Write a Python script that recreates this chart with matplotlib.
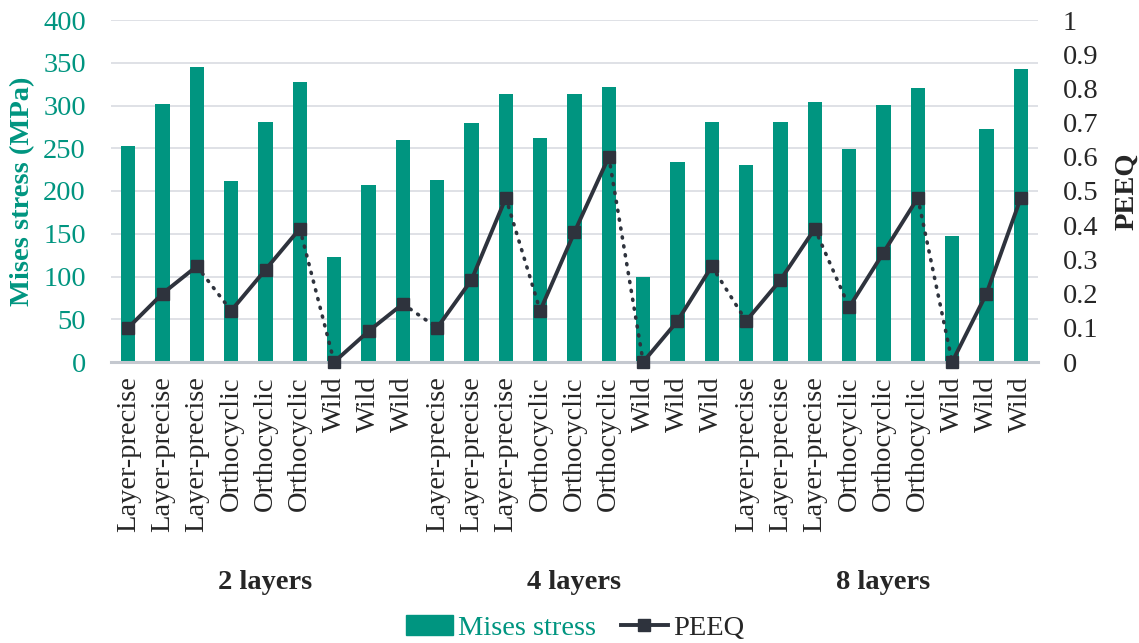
import matplotlib
matplotlib.use("Agg")
import matplotlib.pyplot as plt
from matplotlib.lines import Line2D
from matplotlib.patches import Patch
from matplotlib.ticker import FormatStrFormatter

# winding type per bar, repeated for 2 / 4 / 8 layers
categories = (["Layer-precise"] * 3 + ["Orthocyclic"] * 3 + ["Wild"] * 3) * 3
groups = ["2 layers", "4 layers", "8 layers"]

mises = [253, 302, 345, 212, 281, 328, 123, 207, 260,
         213, 280, 313, 262, 314, 322, 100, 234, 281,
         230, 281, 304, 249, 301, 321, 147, 273, 343]
peeq = [0.10, 0.20, 0.28, 0.15, 0.27, 0.39, 0.00, 0.09, 0.17,
        0.10, 0.24, 0.48, 0.15, 0.38, 0.60, 0.00, 0.12, 0.28,
        0.12, 0.24, 0.39, 0.16, 0.32, 0.48, 0.00, 0.20, 0.48]

TEAL = "#009580"
DARK = "#2e333d"
TXT = "#262626"
FS = 20.5
plt.rcParams["font.family"] = ["Liberation Serif", "DejaVu Serif"]

W, H = 1139, 643
fig = plt.figure(figsize=(W / 100, H / 100), dpi=100)
ax = fig.add_axes([111 / W, 1 - 362 / H, 927 / W, 342 / H])
ax2 = ax.twinx()

x = list(range(len(mises)))
ax.bar(x, mises, width=0.41, color=TEAL, zorder=2)
ax.set_xlim(-0.5, len(x) - 0.5)
ax.set_ylim(0, 400)
ax.set_yticks(range(0, 401, 50))
ax.grid(axis="y", color="#d9dbe2", lw=1.2, zorder=0)
ax.set_axisbelow(True)
ax.tick_params(axis="y", length=0, labelsize=FS, labelcolor=TEAL, pad=18)
ax.set_ylabel("Mises stress (MPa)", color=TEAL, fontsize=FS, fontweight="bold", labelpad=6)
ax.set_xticks(x)
ax.set_xticklabels(categories, rotation=90, fontsize=FS, color=TXT)
ax.tick_params(axis="x", length=0, pad=10)
for s in ("top", "left", "right"):
    ax.spines[s].set_visible(False)
ax.spines["bottom"].set_color("#c4c8cf")
ax.spines["bottom"].set_linewidth(2.2)
ax.spines["bottom"].set_zorder(3)

# PEEQ: solid inside each winding type, dotted between them
ax2.set_ylim(0, 1)
ax2.set_yticks([i / 10 for i in range(11)])
ax2.yaxis.set_major_formatter(FormatStrFormatter("%g"))
ax2.tick_params(axis="y", length=0, labelsize=FS, labelcolor=TXT, pad=18)
ax2.set_ylabel("PEEQ", color=TXT, fontsize=FS, fontweight="bold", labelpad=11)
for s in ax2.spines.values():
    s.set_visible(False)
for i in range(len(peeq) - 1):
    if i % 3 == 2:
        ax2.plot(x[i:i + 2], peeq[i:i + 2], color=DARK, lw=2.6,
                 ls=(0, (0.3, 2.2)), dash_capstyle="round", zorder=4, clip_on=False)
    else:
        ax2.plot(x[i:i + 2], peeq[i:i + 2], color=DARK, lw=2.8,
                 solid_capstyle="butt", zorder=4, clip_on=False)
ax2.plot(x, peeq, ls="none", marker="s", ms=8.5, color=DARK, zorder=5, clip_on=False)

for g, name in enumerate(groups):
    ax.text(g * 9 + 4, -0.645, name, transform=ax.get_xaxis_transform(),
            ha="center", va="center", fontsize=FS, fontweight="bold", color=TXT)

handles = [Patch(color=TEAL, label="Mises stress"),
           Line2D([], [], color=DARK, lw=2.8, marker="s", ms=8, label="PEEQ")]
leg = fig.legend(handles=handles, loc="center", bbox_to_anchor=(575 / W, 1 - 628 / H),
                 ncol=2, frameon=False, fontsize=FS, handlelength=1.65,
                 handletextpad=0.2, columnspacing=0.85)
leg.get_texts()[0].set_color(TEAL)
leg.get_texts()[1].set_color(TXT)

fig.savefig("out.png", dpi=100)
